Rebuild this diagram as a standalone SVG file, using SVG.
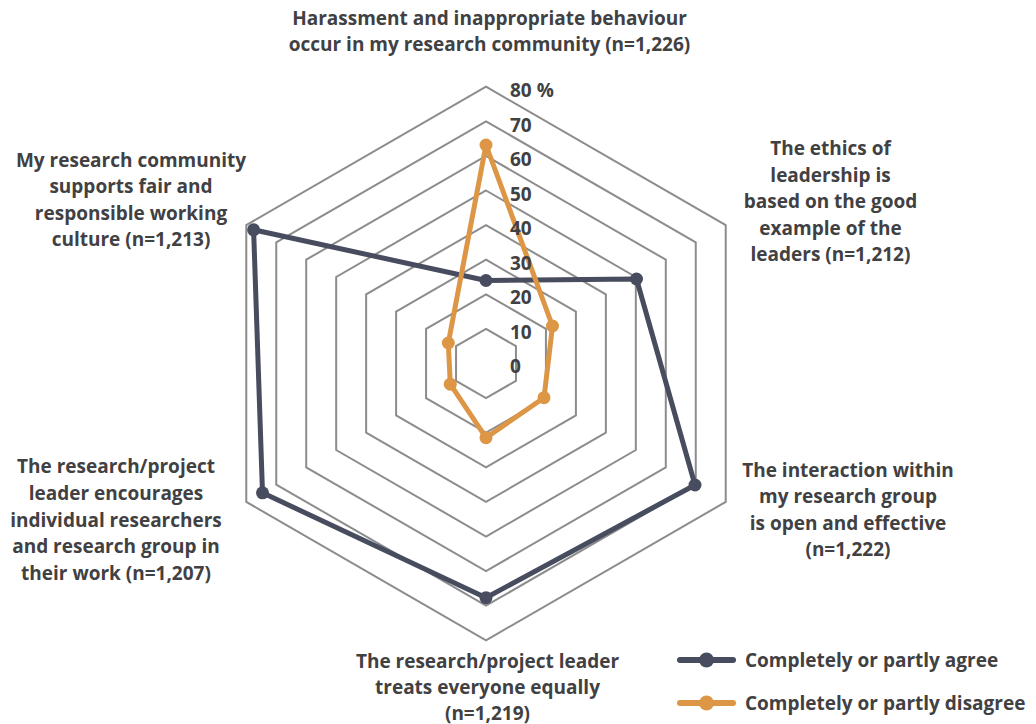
<svg xmlns="http://www.w3.org/2000/svg" width="1036" height="724" viewBox="0 0 1036 724">
<style>
.grid{fill:none;stroke:#8c8c8c;stroke-width:2}
.lbl{font-family:"Open Sans","Noto Sans","Liberation Sans",sans-serif;font-weight:700;font-size:19px;fill:#414042}
.mid{text-anchor:middle}
.agree{fill:none;stroke:#474c5e;stroke-width:5;stroke-linejoin:round}
.dis{fill:none;stroke:#dc9645;stroke-width:5;stroke-linejoin:round}
.da{fill:#474c5e}
.dd{fill:#dc9645}
</style>
<rect width="1036" height="724" fill="#ffffff"/>
<g id="grid">
<polygon class="grid" points="486,328.9 515.96,346.2 515.96,380.8 486,398.1 456.04,380.8 456.04,346.2"/>
<polygon class="grid" points="486,294.3 545.93,328.9 545.93,398.1 486,432.7 426.07,398.1 426.07,328.9"/>
<polygon class="grid" points="486,259.7 575.89,311.6 575.89,415.4 486,467.3 396.11,415.4 396.11,311.6"/>
<polygon class="grid" points="486,225.1 605.86,294.3 605.86,432.7 486,501.9 366.14,432.7 366.14,294.3"/>
<polygon class="grid" points="486,190.5 635.82,277 635.82,450 486,536.5 336.18,450 336.18,277"/>
<polygon class="grid" points="486,155.9 665.79,259.7 665.79,467.3 486,571.1 306.21,467.3 306.21,259.7"/>
<polygon class="grid" points="486,121.3 695.75,242.4 695.75,484.6 486,605.7 276.25,484.6 276.25,242.4"/>
<polygon class="grid" points="486,86.7 725.72,225.1 725.72,501.9 486,640.3 246.28,501.9 246.28,225.1"/>
</g>
<g id="connectors">
<g id="series-agree">
<polygon class="agree" points="486,280.5 636.5,279 695,485 486,597.7 262.5,492.8 253.6,229.8"/>
<circle class="da" cx="486" cy="280.5" r="6.5"/>
<circle class="da" cx="636.5" cy="279" r="6.5"/>
<circle class="da" cx="695" cy="485" r="6.5"/>
<circle class="da" cx="486" cy="597.7" r="6.5"/>
<circle class="da" cx="262.5" cy="492.8" r="6.5"/>
<circle class="da" cx="253.6" cy="229.8" r="6.5"/>
</g>
<g id="series-disagree">
<polygon class="dis" points="486,145 552.5,326 544,397.7 486,437.7 450.3,384.2 448.3,343"/>
<circle class="dd" cx="486" cy="145" r="6.5"/>
<circle class="dd" cx="552.5" cy="326" r="6.5"/>
<circle class="dd" cx="544" cy="397.7" r="6.5"/>
<circle class="dd" cx="486" cy="437.7" r="6.5"/>
<circle class="dd" cx="450.3" cy="384.2" r="6.5"/>
<circle class="dd" cx="448.3" cy="343" r="6.5"/>
</g>
</g>
<g id="axis-labels" class="lbl">
<text x="510" y="97">80 %</text>
<text x="510" y="131.5">70</text>
<text x="510" y="166">60</text>
<text x="510" y="200.5">50</text>
<text x="510" y="235">40</text>
<text x="510" y="269.5">30</text>
<text x="510" y="304">20</text>
<text x="510" y="338.5">10</text>
<text x="510" y="373">0</text>
</g>
<g id="node-harassment" class="lbl mid">
<text x="489.5" y="25">Harassment and inappropriate behaviour</text>
<text x="489.5" y="51">occur in my research community (n=1,226)</text>
</g>
<g id="node-ethics" class="lbl mid">
<text x="830.5" y="155">The ethics of</text>
<text x="830.5" y="181.5">leadership is</text>
<text x="830.5" y="208">based on the good</text>
<text x="830.5" y="234.5">example of the</text>
<text x="830.5" y="261">leaders (n=1,212)</text>
</g>
<g id="node-interaction" class="lbl mid">
<text x="848" y="477">The interaction within</text>
<text x="848" y="503">my research group</text>
<text x="848" y="529.5">is open and effective</text>
<text x="848" y="556">(n=1,222)</text>
</g>
<g id="node-equally" class="lbl mid">
<text x="487.5" y="668">The research/project leader</text>
<text x="487.5" y="694">treats everyone equally</text>
<text x="487.5" y="719.5">(n=1,219)</text>
</g>
<g id="node-encourages" class="lbl mid">
<text x="116" y="473">The research/project</text>
<text x="116" y="500">leader encourages</text>
<text x="116" y="526.5">individual researchers</text>
<text x="116" y="553">and research group in</text>
<text x="116" y="579.5">their work (n=1,207)</text>
</g>
<g id="node-supports" class="lbl mid">
<text x="131" y="166.5">My research community</text>
<text x="131" y="193">supports fair and</text>
<text x="131" y="219.5">responsible working</text>
<text x="131" y="246">culture (n=1,213)</text>
</g>
<g id="legend">
<line x1="680" y1="660" x2="733" y2="660" stroke="#474c5e" stroke-width="6" stroke-linecap="round"/>
<circle class="da" cx="706.5" cy="660" r="7.5"/>
<text class="lbl" x="745" y="667">Completely or partly agree</text>
<line x1="680" y1="703" x2="733" y2="703" stroke="#dc9645" stroke-width="6" stroke-linecap="round"/>
<circle class="dd" cx="706.5" cy="703" r="7.5"/>
<text class="lbl" x="745" y="710">Completely or partly disagree</text>
</g>
</svg>
